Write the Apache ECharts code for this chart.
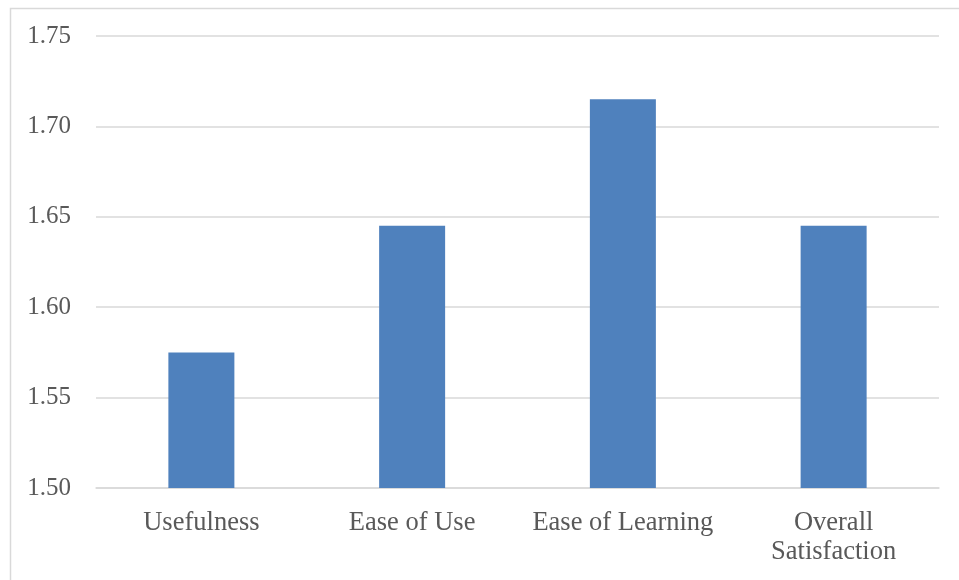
<!DOCTYPE html>
<html>
<head>
<meta charset="utf-8">
<script src="https://cdn.jsdelivr.net/npm/echarts@6/dist/echarts.min.js"></script>
<style>html,body{margin:0;padding:0;background:#fff;}#c{width:959px;height:580px;}</style>
</head>
<body>
<div id="c"></div>
<script>
const categories = ["Usefulness", "Ease of Use", "Ease of Learning", "Overall\nSatisfaction"];
const values = [1.575, 1.645, 1.715, 1.645];
const yMin = 1.5, yMax = 1.75, yStep = 0.05;

const chart = echarts.init(document.getElementById('c'));
chart.setOption({
  animation: false,
  backgroundColor: '#fff',
  graphic: [{
    type: 'rect', left: 8, top: 6, z: -1,
    shape: { width: 1000, height: 1000 },
    style: { fill: 'none', stroke: '#d9d9d9', lineWidth: 1.5 }
  }],
  grid: { left: 96, right: 20, top: 36, bottom: 92 },
  xAxis: {
    type: 'category', data: categories,
    axisLine: { show: true, lineStyle: { color: '#d9d9d9', width: 1.5 } },
    axisTick: { show: false },
    axisLabel: { color: '#595959', fontFamily: 'Liberation Serif', fontSize: 26.5, margin: 21, lineHeight: 29, interval: 0 }
  },
  yAxis: {
    type: 'value', min: yMin, max: yMax, interval: yStep,
    axisLine: { show: false }, axisTick: { show: false },
    splitLine: { lineStyle: { color: '#d9d9d9', width: 1.5 } },
    axisLabel: { color: '#595959', fontFamily: 'Liberation Serif', fontSize: 25, margin: 25, formatter: v => v.toFixed(2) }
  },
  series: [{
    type: 'bar', data: values, barWidth: 66,
    itemStyle: { color: '#4f81bd' }
  }]
});
</script>
</body>
</html>
